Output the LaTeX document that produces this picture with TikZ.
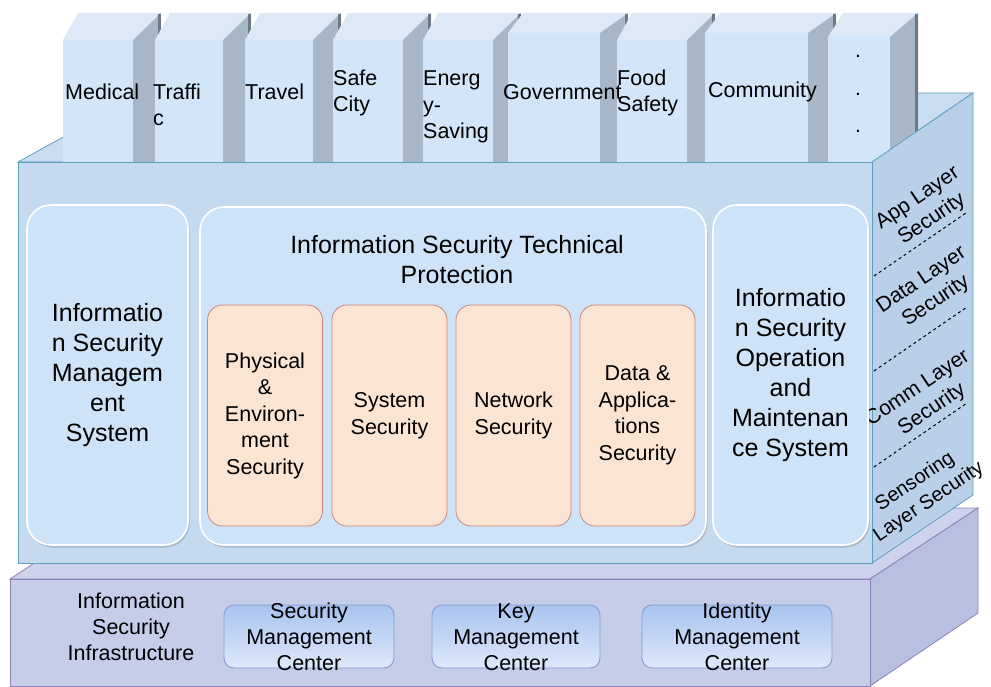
\documentclass[tikz,border=0pt]{standalone}
\usepackage{fontspec}
\setmainfont{Liberation Sans}
\usetikzlibrary{shadows}

\definecolor{colfront}{HTML}{D3E5F8}
\definecolor{coltop}{HTML}{DDE9F7}
\definecolor{colside}{HTML}{A8B7C8}
\definecolor{colstrip}{HTML}{6E7883}
\definecolor{mainfill}{HTML}{C5D9EF}
\definecolor{maintop}{HTML}{CADCEF}
\definecolor{mainside}{HTML}{BAD0E9}
\definecolor{mainline}{HTML}{5E9FC0}
\definecolor{innerblue}{HTML}{CFE3F8}
\definecolor{subfill}{HTML}{FCE4D3}
\definecolor{subline}{HTML}{C8847E}
\definecolor{basefill}{HTML}{C6CDE9}
\definecolor{basetop}{HTML}{CDD3EC}
\definecolor{baseside}{HTML}{B8C0E1}
\definecolor{baseline}{HTML}{8E80B8}
\definecolor{centertop}{HTML}{A9C3F0}
\definecolor{centerbot}{HTML}{DDE8FA}
\definecolor{centerline}{HTML}{7F9ACB}

\begin{document}
\begin{tikzpicture}[
  x=1pt, y=-1pt,
  font=\fontsize{21}{26}\selectfont,
  collabel/.style={anchor=west, align=left, inner sep=0pt,
    font=\fontsize{21.5}{26.5}\selectfont},
  sidebox/.style={draw=white, line width=1.6pt, fill=innerblue,
    rounded corners=24pt, inner sep=0pt, align=center,
    font=\fontsize{25}{30}\selectfont,
    drop shadow={shadow xshift=1.5pt, shadow yshift=-2.5pt, opacity=0.35}},
  subbox/.style={draw=subline, line width=0.8pt, fill=subfill,
    rounded corners=15pt, inner sep=0pt, align=center,
    minimum width=115pt, minimum height=221pt,
    font=\fontsize{21.5}{26.5}\selectfont},
  centerbox/.style={draw=centerline, line width=0.8pt,
    top color=centertop, bottom color=centerbot,
    rounded corners=10pt, inner sep=0pt, minimum height=63pt},
  centertext/.style={align=center, inner sep=0pt,
    font=\fontsize{21.5}{26}\selectfont},
  layerlabel/.style={rotate=34, inner sep=0pt, align=center,
    font=\fontsize{21}{25.5}\selectfont},
]
\useasboundingbox (0,0) rectangle (991,687);

% ── Base slab: security infrastructure ─────────────────────────────
\filldraw[fill=basetop, draw=baseline, line width=0.8pt]
  (10,579) -- (118,508) -- (978,508) -- (870,579) -- cycle;
\filldraw[fill=baseside, draw=baseline, line width=0.8pt]
  (870,579) -- (978,508) -- (978,613) -- (870,686) -- cycle;
\filldraw[fill=basefill, draw=baseline, line width=0.8pt]
  (10,579) rectangle (870,686);

% ── Main slab, top face (behind the columns) ────────────────────────
\filldraw[fill=maintop, draw=mainline, line width=0.8pt]
  (18,162) -- (143,93) -- (973,93) -- (872,162) -- cycle;

% ── Application columns ─────────────────────────────────────────────
% Each entry: left, right, front top
\foreach \xa/\xb/\yt in {
   63/133/40, 155/223/40, 245/313/40, 333/403/40, 423/493/40,
  508/600/33, 617/687/40, 705/808/33, 828/890/37%
} {
  % top face
  \fill[coltop] (\xa,\yt) -- (\xa+15,13) -- (\xb+28,13) -- (\xb,\yt) -- cycle;
  % side face with its dark rim
  \fill[colside] (\xb,\yt) -- (\xb+28,13) -- (\xb+28,162) -- (\xb,162) -- cycle;
  \draw[colstrip, line width=3pt] (\xb+26.5,14) -- (\xb+26.5,162);
  % front face
  \fill[colfront] (\xa,\yt) rectangle (\xb,162);
}

% Column labels (drawn last, they spill over their neighbours)
\foreach \lx/\ly/\lbl/\nm in {
   65/92/{Medical}/med,
  153/105/{Traffi\\c}/trf,
  245/92/{Travel}/trv,
  333/93/{Safe\\City}/safe,
  423/107/{Energ\\y-\\Saving}/nrg,
  503/92/{Government}/gov,
  617/93/{Food\\Safety}/food,
  708/92/{Community}/comm%
} {
  \node[collabel] (col-\nm) at (\lx,\ly) {\lbl};
}
\foreach \dy [count=\k] in {58,96,133}
  \node[anchor=base, inner sep=0pt] (dot-\k) at (858,\dy) {.};

% ── Main slab, front and side faces ─────────────────────────────────
\filldraw[fill=mainside, draw=mainline, line width=0.8pt]
  (872,162) -- (973,93) -- (973,495) -- (872,563) -- cycle;
\filldraw[fill=mainfill, draw=mainline, line width=0.8pt]
  (18,162) rectangle (872,563);

% Layer separators on the side face
\draw[dashed, line width=1pt] (874,276) -- (966,213);
\draw[dashed, line width=1pt] (874,371) -- (967,307);
\draw[dashed, line width=1pt] (874,467) -- (967,403);

\node[layerlabel] (lay-app)  at (925,209) {App Layer\\Security};
\node[layerlabel] (lay-data) at (929,291) {Data Layer\\Security};
\node[layerlabel] (lay-comm) at (925,399) {Comm Layer\\Security};
\node[layerlabel, font=\fontsize{20}{24.5}\selectfont]
  (lay-sens) at (922,492) {Sensoring\\Layer Security};

% ── Three pillars inside the main slab ──────────────────────────────
\node[sidebox, minimum width=161pt, minimum height=340pt] (ism) at (107.5,375)
  {Informatio\\n Security\\Managem\\ent\\System};
\node[sidebox, minimum width=155pt, minimum height=340pt] (isom) at (790.5,375)
  {Informatio\\n Security\\Operation\\and\\Maintenan\\ce System};
\node[sidebox, minimum width=506pt, minimum height=338pt] (istp) at (453,376) {};
\node[align=center, inner sep=0pt, font=\fontsize{25}{30}\selectfont]
  (istp-title) at (457,260) {Information Security Technical\\Protection};

% Technical protection sub-boxes
\foreach \xc/\txt/\nm in {
  265/{Physical\\\&\\Environ-\\ment\\Security}/phys,
  389.5/{System\\Security}/sys,
  513.5/{Network\\Security}/net,
  637.5/{Data \&\\Applica-\\tions\\Security}/data%
} {
  \node[subbox] (sub-\nm) at (\xc,415.5) {\txt};
}

% ── Infrastructure centres ──────────────────────────────────────────
\node[centertext] (isi) at (131,627)
  {Information\\Security\\Infrastructure};
\foreach \xc/\w/\first/\nm in {
  309/170/Security/smc,
  516/168/Key/kmc,
  737/190/Identity/imc%
} {
  \node[centerbox, minimum width=\w pt] (\nm) at (\xc,636.5) {};
  \node[centertext] (\nm-text) at (\xc,637) {\first\\Management\\Center};
}

\end{tikzpicture}
\end{document}
